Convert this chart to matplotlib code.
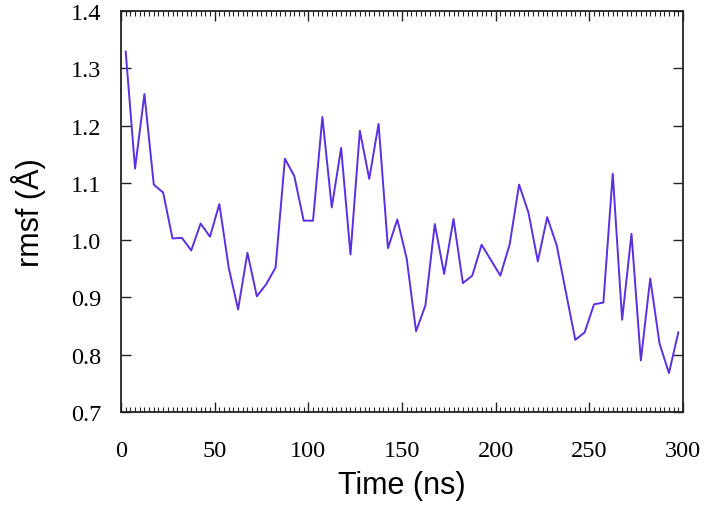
import numpy as np
import matplotlib
matplotlib.use("Agg")
import matplotlib.pyplot as plt
from matplotlib.ticker import MultipleLocator

# time (ns), one sample every 5 ns
time_ns = np.arange(2.5, 300, 5.0)
rmsf = [1.329, 1.125, 1.255, 1.097, 1.083, 1.003, 1.004, 0.982, 1.029, 1.006,
        1.063, 0.952, 0.879, 0.978, 0.902, 0.923, 0.952, 1.142, 1.112, 1.034,
        1.034, 1.215, 1.057, 1.161, 0.975, 1.191, 1.107, 1.203, 0.986, 1.036,
        0.968, 0.841, 0.886, 1.028, 0.941, 1.037, 0.925, 0.938, 0.992, 0.965,
        0.938, 0.993, 1.097, 1.048, 0.963, 1.040, 0.992, 0.909, 0.826, 0.839,
        0.888, 0.891, 1.116, 0.861, 1.011, 0.790, 0.933, 0.819, 0.768, 0.839]

fig = plt.figure(figsize=(7.08, 5.06), dpi=100)
ax = fig.add_axes([0.1709, 0.1838, 0.7938, 0.7925])

ax.plot(time_ns, rmsf, color="#5b2fe3", lw=1.4)

ax.set_xlim(0, 300)
ax.set_ylim(0.7, 1.4)
ax.xaxis.set_major_locator(MultipleLocator(50))
ax.xaxis.set_minor_locator(MultipleLocator(2.5))
ax.yaxis.set_major_locator(MultipleLocator(0.1))
ax.yaxis.set_major_formatter(matplotlib.ticker.FormatStrFormatter("%.1f"))

ax.tick_params(which="both", direction="in", top=True, right=True,
               colors="#222222")
ax.tick_params(axis="x", which="major", length=7, width=1, pad=20)
ax.tick_params(axis="x", which="minor", length=3.5, width=0.8)
ax.tick_params(axis="y", which="major", length=7, width=1, pad=14)
for lab in ax.get_xticklabels() + ax.get_yticklabels():
    lab.set_fontfamily("Liberation Serif")
    lab.set_fontsize(17.5)
    lab.set_color("black")
for s in ax.spines.values():
    s.set_linewidth(1.3)
    s.set_color("#222222")

ax.set_xlabel("Time (ns)", fontfamily="Liberation Sans", fontsize=22, labelpad=7)
ax.set_ylabel("rmsf (Å)", fontfamily="Liberation Sans", fontsize=22, labelpad=18)

fig.savefig("out.png", dpi=100)
